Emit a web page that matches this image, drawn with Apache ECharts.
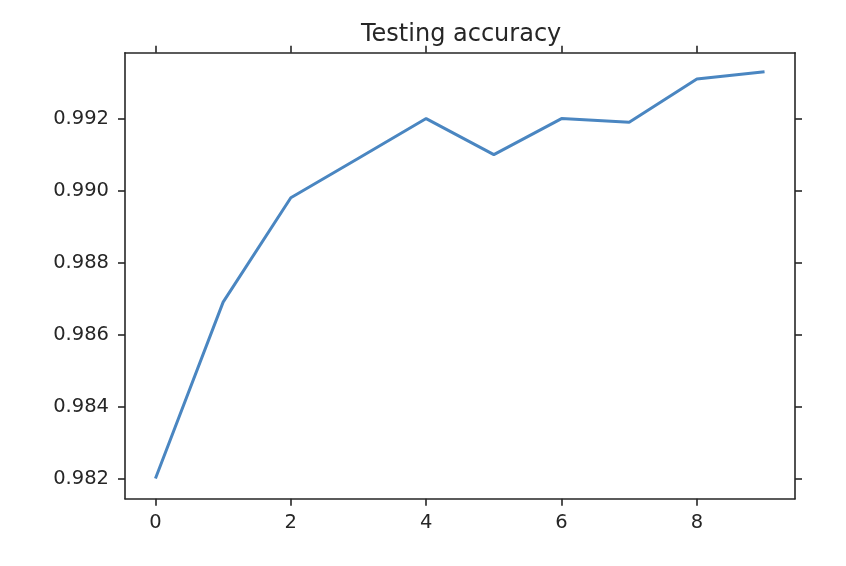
<!DOCTYPE html>
<html>
<head>
<meta charset="utf-8">
<script src="https://cdn.jsdelivr.net/npm/echarts@6/dist/echarts.min.js"></script>
<style>html,body{margin:0;padding:0;background:#fff;}#c{width:846px;height:566px;}</style>
</head>
<body>
<div id="c"></div>
<script>
const titleText = "Testing accuracy";
const epochs = [0, 1, 2, 3, 4, 5, 6, 7, 8, 9];
const accuracy = [0.9820, 0.9869, 0.9898, 0.9909, 0.9920, 0.9910, 0.9920, 0.9919, 0.9931, 0.9933];
const xTicks = [0, 2, 4, 6, 8];
const yTicks = [0.982, 0.984, 0.986, 0.988, 0.990, 0.992];

const chart = echarts.init(document.getElementById('c'), null, {renderer: 'canvas'});
const axisColor = '#262626';
const font = 'DejaVu Sans';
const lineStyle = {color: axisColor, width: 1.6};
const xMin = -0.45, xMax = 9.45, yMin = 0.98144, yMax = 0.99383;

function xAxisDef(pos, showLabels) {
  return {
    type: 'value', position: pos, min: xMin, max: xMax,
    axisLine: {show: true, onZero: false, lineStyle: lineStyle},
    axisTick: {show: true, inside: false, length: 7, lineStyle: lineStyle, customValues: xTicks},
    axisLabel: {show: showLabels, customValues: xTicks, margin: 14, fontFamily: font, fontSize: 19.5, color: axisColor},
    splitLine: {show: false}
  };
}
function yAxisDef(pos, showLabels) {
  return {
    type: 'value', position: pos, min: yMin, max: yMax,
    axisLine: {show: true, onZero: false, lineStyle: lineStyle},
    axisTick: {show: true, inside: false, length: 7, lineStyle: lineStyle, customValues: yTicks},
    axisLabel: {show: showLabels, customValues: yTicks, margin: 16, fontFamily: font, fontSize: 19.5, color: axisColor,
      formatter: v => v.toFixed(3)},
    splitLine: {show: false}
  };
}

chart.setOption({
  animation: false,
  backgroundColor: '#ffffff',
  title: {
    text: titleText, left: 356, top: 18,
    textStyle: {fontFamily: font, fontSize: 24, fontWeight: 'normal', color: axisColor}
  },
  grid: {left: 125, right: 51, top: 52.7, bottom: 67.3, containLabel: false},
  xAxis: [xAxisDef('bottom', true), xAxisDef('top', false)],
  yAxis: [yAxisDef('left', true), yAxisDef('right', false)],
  series: [{
    type: 'line',
    data: epochs.map((e, i) => [e, accuracy[i]]),
    xAxisIndex: 0, yAxisIndex: 0,
    showSymbol: false, symbol: 'none',
    lineStyle: {color: '#4a86c1', width: 3},
    itemStyle: {color: '#4a86c1'}
  }]
});
</script>
</body>
</html>
